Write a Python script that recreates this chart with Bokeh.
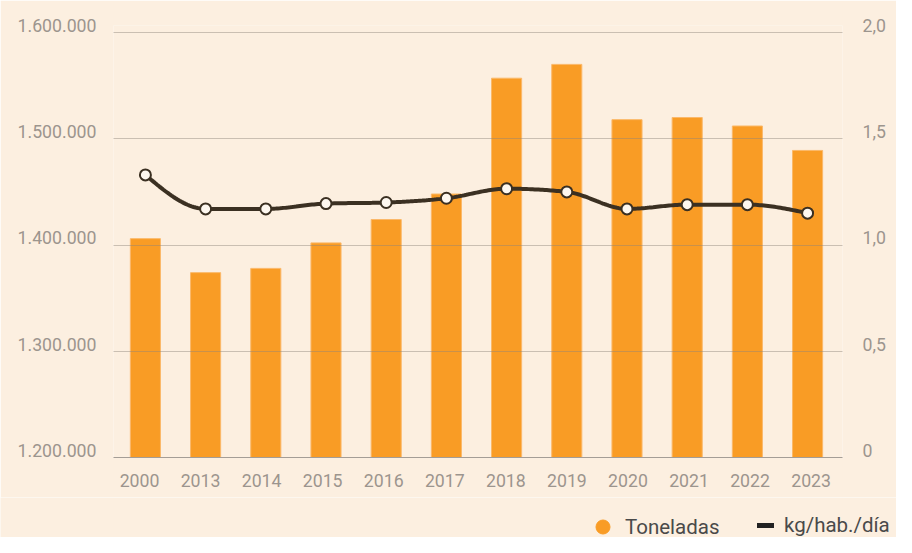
import numpy as np
from bokeh.plotting import figure
from bokeh.layouts import column
from bokeh.models import (Range1d, LinearAxis, FixedTicker, Legend, LegendItem,
                          ColumnDataSource, Grid)
from bokeh.embed import file_html
from bokeh.resources import INLINE

# ---- data ----
years = ["2000", "2013", "2014", "2015", "2016", "2017", "2018", "2019", "2020", "2021", "2022", "2023"]
toneladas = [1406000, 1374000, 1378000, 1402000, 1424000, 1448000, 1557000, 1570000, 1518000, 1520000, 1512000, 1489000]
kg_hab_dia = [1.33, 1.17, 1.17, 1.195, 1.20, 1.22, 1.265, 1.25, 1.17, 1.19, 1.19, 1.15]
left_ticks = [1200000, 1300000, 1400000, 1500000, 1600000]
left_labels = ["1.200.000", "1.300.000", "1.400.000", "1.500.000", "1.600.000"]
right_ticks = [0, 0.5, 1.0, 1.5, 2.0]
right_labels = ["0", "0,5", "1,0", "1,5", "2,0"]

BG = "#fcefe0"
BAR = "#f99c25"
LINE = "#3b3022"
TICK = "#9c958e"
FONT = "Roboto"


def monotone_path(xs, ys, n=30):
    xs = np.asarray(xs, float)
    ys = np.asarray(ys, float)
    h = np.diff(xs)
    s = np.diff(ys) / h
    m = np.zeros_like(ys)
    for i in range(1, len(xs) - 1):
        p = (s[i - 1] * h[i] + s[i] * h[i - 1]) / (h[i - 1] + h[i])
        m[i] = (np.sign(s[i - 1]) + np.sign(s[i])) * min(abs(s[i - 1]), abs(s[i]), 0.5 * abs(p))
    m[0] = (3 * s[0] - m[1]) / 2
    m[-1] = (3 * s[-1] - m[-2]) / 2
    px, py = [], []
    for i in range(len(xs) - 1):
        t = np.linspace(0, 1, n, endpoint=(i == len(xs) - 2))
        h00 = 2 * t**3 - 3 * t**2 + 1
        h10 = t**3 - 2 * t**2 + t
        h01 = -2 * t**3 + 3 * t**2
        h11 = t**3 - t**2
        px.extend(xs[i] + t * h[i])
        py.extend(h00 * ys[i] + h10 * h[i] * m[i] + h01 * ys[i + 1] + h11 * h[i] * m[i + 1])
    return px, py


idx = list(range(len(years)))

# labels sit ~7px above their grid lines: the label axes use ranges shifted by that amount
L_OFF = 6600      # in tonnes
R_OFF = 0.033     # in kg/hab./día

p = figure(width=896, height=497, output_backend="svg", toolbar_location=None,
           x_range=Range1d(-0.53, 11.58), y_range=Range1d(1200000, 1600000 + L_OFF),
           x_axis_location=None, y_axis_location=None,
           min_border_left=113, min_border_right=54, min_border_top=25, min_border_bottom=40,
           background_fill_color=BG, border_fill_color=BG, outline_line_color=None)
for g in list(p.grid):
    g.visible = False

p.extra_y_ranges = {
    "right": Range1d(0, 2 + R_OFF),
    "llab": Range1d(1200000 - L_OFF, 1600000),
    "rlab": Range1d(-R_OFF, 2),
}
# year labels are spread slightly wider than the bars
p.extra_x_ranges = {"xlab": Range1d(-0.426, 11.514)}

src = ColumnDataSource(dict(x=idx, year=years, t=toneladas, k=kg_hab_dia))

p.vbar(x="x", top="t", bottom=1200000, width=0.5, source=src,
       fill_color=BAR, line_color="#fbb869", line_width=1)

lx, ly = monotone_path(idx, kg_hab_dia)
p.line(lx, ly, y_range_name="right", line_color=LINE, line_width=4)
p.scatter(x="x", y="k", source=src, y_range_name="right", size=11,
          fill_color="#fdf7ef", line_color=LINE, line_width=2)

# grid on top of bars
grid = Grid(dimension=1, ticker=FixedTicker(ticks=left_ticks),
            grid_line_color="#8f857b", grid_line_alpha=0.45, level="overlay")
p.add_layout(grid)

# axes
bottom = LinearAxis(x_range_name="xlab", ticker=FixedTicker(ticks=idx),
                    major_label_overrides={i: y for i, y in zip(idx, years)})
bottom.axis_line_color = "#a49d96"
bottom.major_label_standoff = 16
p.add_layout(bottom, "below")

left = LinearAxis(y_range_name="llab", ticker=FixedTicker(ticks=left_ticks),
                  major_label_overrides={t: l for t, l in zip(left_ticks, left_labels)})
right = LinearAxis(y_range_name="rlab", ticker=FixedTicker(ticks=right_ticks),
                   major_label_overrides={t: l for t, l in zip(right_ticks, right_labels)})
for ax in (left, right):
    ax.axis_line_color = None
for ax in (bottom, left, right):
    ax.major_tick_line_color = None
    ax.minor_tick_line_color = None
    ax.major_tick_out = 0
    ax.major_tick_in = 0
    ax.minor_tick_out = 0
    ax.major_label_text_font = FONT
    ax.major_label_text_font_size = "17.7px"
    ax.major_label_text_color = TICK
left.major_label_standoff = 17
right.major_label_standoff = 20
p.add_layout(left, "left")
p.add_layout(right, "right")

# legend strip below the chart (dummy renderers lie outside the strip's ranges)
lf = figure(width=896, height=40, output_backend="svg", toolbar_location=None,
            x_range=Range1d(0, 1), y_range=Range1d(0, 1),
            x_axis_location=None, y_axis_location=None,
            min_border_left=0, min_border_right=0, min_border_top=0, min_border_bottom=0,
            background_fill_color=BG, border_fill_color=BG, outline_line_color=None)
aligned_off = True
try:
    lf.frame_align = False
    p.frame_align = False
except Exception:
    aligned_off = False
for g in list(lf.grid):
    g.visible = False
r_dot = lf.scatter(x=[-5], y=[-5], size=15, fill_color=BAR, line_color=BAR)
r_ln = lf.line(x=[-6, -5], y=[-5, -5], line_color="#222222", line_width=5, line_cap="round")

common = dict(orientation="horizontal", padding=0, margin=0,
              label_text_font=FONT, label_text_font_size="20.5px",
              label_text_color="#4a4a4a",
              background_fill_alpha=0, border_line_color=None)
x_shift = 0 if aligned_off else -150
leg_a = Legend(items=[LegendItem(label="Toneladas", renderers=[r_dot])],
               location=(585 + x_shift, -7), glyph_width=35, glyph_height=35,
               label_height=20, label_standoff=5, **common)
leg_b = Legend(items=[LegendItem(label="kg/hab./día", renderers=[r_ln])],
               location=(757 + x_shift, 0), glyph_width=17, glyph_height=20,
               label_height=20, label_standoff=10, **common)
lf.add_layout(leg_a, "center")
lf.add_layout(leg_b, "center")

layout = column(p, lf, spacing=0)
open("out.html", "w").write(file_html(layout, INLINE))
